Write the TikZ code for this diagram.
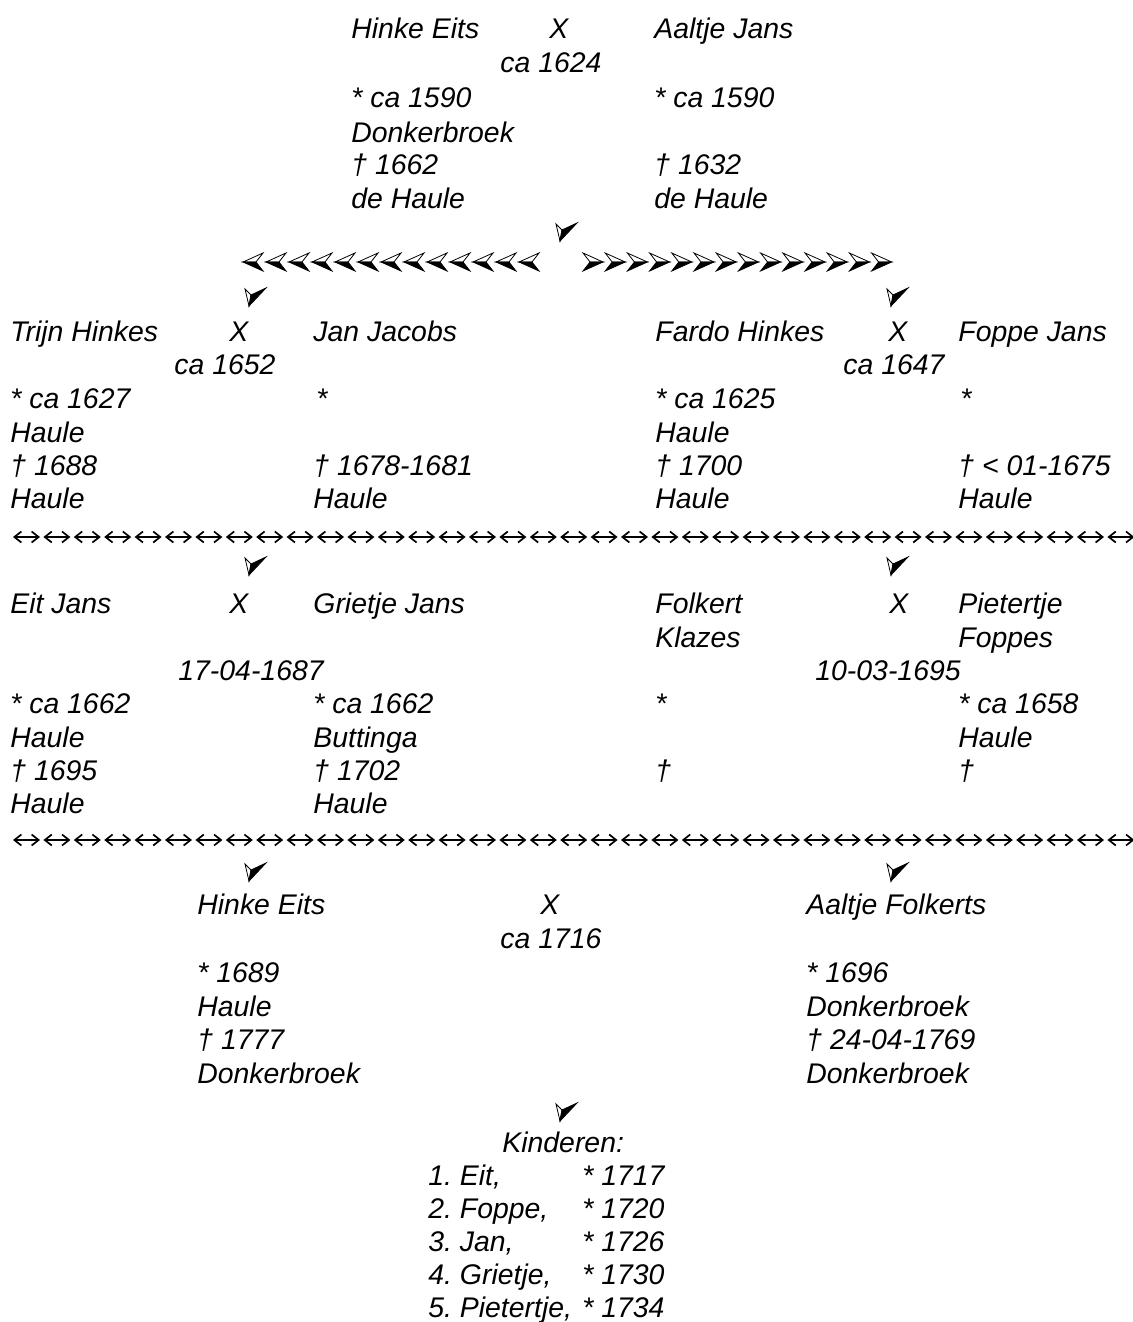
\documentclass[tikz,border=0pt]{standalone}
\usepackage{fontspec}
\setmainfont{Liberation Sans}
\usetikzlibrary{arrows.meta}
\frenchspacing

\begin{document}
\begin{tikzpicture}[x=0.5pt,y=0.5pt,yscale=-1,xscale=1,
    txt/.style={anchor=base west,inner sep=0pt,font=\fontsize{14.2}{17}\selectfont\itshape},
    arrR/.pic={\filldraw[fill=white,line width=0.4pt] (0,0) -- (-20,9) -- (-13,0) -- cycle;
               \filldraw[line width=0.4pt] (0,0) -- (-13,0) -- (-20,-9) -- cycle;},
    arrD/.pic={\filldraw[fill=white,line width=0.4pt] (0,0) -- (-4,17) -- (2,11) -- cycle;
               \filldraw[line width=0.4pt] (0,0) -- (2,11) -- (17,18) -- cycle;},
    sep/.style={line width=0.85pt,{Straight Barb[length=3.5pt,width=5.5pt]}-{Straight Barb[length=3.5pt,width=5.5pt]}}]
    \useasboundingbox (0,0) rectangle (1133,1322);

    % Text Node
    \draw (351,39) node [txt] (p1) {Hinke Eits};
    \draw (549,39) node [txt] (x1) {X};
    \draw (654,39) node [txt] (p2) {Aaltje Jans};
    \draw (500,73) node [txt] (d1) {ca 1624};
    \draw (351,108) node [txt] (p1b) {* ca 1590};
    \draw (654,108) node [txt] (p2b) {* ca 1590};
    \draw (351,142) node [txt] (p1bp) {Donkerbroek};
    \draw (351,175) node [txt] (p1d) {† 1662};
    \draw (654,175) node [txt] (p2d) {† 1632};
    \draw (351,208) node [txt] (p1dp) {de Haule};
    \draw (654,208) node [txt] (p2dp) {de Haule};

    %Arrow heads
    \pic at (560,241) {arrD};
    \foreach \i in {0,...,12} \pic[xscale=-1] at (243+23*\i,262) {arrR};
    \foreach \i in {0,...,13} \pic at (603+22.2*\i,262) {arrR};
    \pic at (249,306) {arrD};
    \pic at (891,306) {arrD};

    % Text Node
    \draw (10,341) node [txt] (p3) {Trijn Hinkes};
    \draw (229,341) node [txt] (x3) {X};
    \draw (313,341) node [txt] (p4) {Jan Jacobs};
    \draw (174,374) node [txt] (d3) {ca 1652};
    \draw (10,408) node [txt] (p3b) {* ca 1627};
    \draw (316,408) node [txt] (p4b) {*};
    \draw (10,442) node [txt] (p3bp) {Haule};
    \draw (10,475) node [txt] (p3d) {† 1688};
    \draw (313,475) node [txt] (p4d) {† 1678-1681};
    \draw (10,508) node [txt] (p3dp) {Haule};
    \draw (313,508) node [txt] (p4dp) {Haule};
    % Text Node
    \draw (655,341) node [txt] (p5) {Fardo Hinkes};
    \draw (888,341) node [txt] (x5) {X};
    \draw (958,341) node [txt] (p6) {Foppe Jans};
    \draw (843,374) node [txt] (d5) {ca 1647};
    \draw (655,408) node [txt] (p5b) {* ca 1625};
    \draw (960,408) node [txt] (p6b) {*};
    \draw (655,442) node [txt] (p5bp) {Haule};
    \draw (655,475) node [txt] (p5d) {† 1700};
    \draw (958,475) node [txt] (p6d) {† < 01-1675};
    \draw (655,508) node [txt] (p5dp) {Haule};
    \draw (958,508) node [txt] (p6dp) {Haule};

    %Separator
    \foreach \i in {0,...,36} \draw[sep] (13+30.4*\i,537) -- (40+30.4*\i,537);
    \pic at (249,575) {arrD};
    \pic at (891,575) {arrD};

    % Text Node
    \draw (10,613) node [txt] (p7) {Eit Jans};
    \draw (229,613) node [txt] (x7) {X};
    \draw (313,613) node [txt] (p8) {Grietje Jans};
    \draw (178,680) node [txt] (d7) {17-04-1687};
    \draw (10,713) node [txt] (p7b) {* ca 1662};
    \draw (313,713) node [txt] (p8b) {* ca 1662};
    \draw (10,747) node [txt] (p7bp) {Haule};
    \draw (313,747) node [txt] (p8bp) {Buttinga};
    \draw (10,780) node [txt] (p7d) {† 1695};
    \draw (313,780) node [txt] (p8d) {† 1702};
    \draw (10,813) node [txt] (p7dp) {Haule};
    \draw (313,813) node [txt] (p8dp) {Haule};
    % Text Node
    \draw (655,613) node [txt] (p9) {Folkert};
    \draw (655,647) node [txt] (p9n) {Klazes};
    \draw (889,613) node [txt] (x9) {X};
    \draw (958,613) node [txt] (p10) {Pietertje};
    \draw (958,647) node [txt] (p10n) {Foppes};
    \draw (815,680) node [txt] (d9) {10-03-1695};
    \draw (655,713) node [txt] (p9b) {*};
    \draw (958,713) node [txt] (p10b) {* ca 1658};
    \draw (958,747) node [txt] (p10bp) {Haule};
    \draw (655,780) node [txt] (p9d) {†};
    \draw (958,780) node [txt] (p10d) {†};

    %Separator
    \foreach \i in {0,...,36} \draw[sep] (13+30.4*\i,840) -- (40+30.4*\i,840);
    \pic at (249,881) {arrD};
    \pic at (891,881) {arrD};

    % Text Node
    \draw (197,914) node [txt] (p11) {Hinke Eits};
    \draw (540,914) node [txt] (x11) {X};
    \draw (806,914) node [txt] (p12) {Aaltje Folkerts};
    \draw (500,948) node [txt] (d11) {ca 1716};
    \draw (197,982) node [txt] (p11b) {* 1689};
    \draw (806,982) node [txt] (p12b) {* 1696};
    \draw (197,1016) node [txt] (p11bp) {Haule};
    \draw (806,1016) node [txt] (p12bp) {Donkerbroek};
    \draw (197,1049) node [txt] (p11d) {† 1777};
    \draw (806,1049) node [txt] (p12d) {† 24-04-1769};
    \draw (197,1083) node [txt] (p11dp) {Donkerbroek};
    \draw (806,1083) node [txt] (p12dp) {Donkerbroek};

    \pic at (560,1121) {arrD};

    % Text Node
    \draw (502,1152) node [txt] (kid) {Kinderen:};
    \draw (428,1185) node [txt] (k1) {1. Eit,};
    \draw (428,1218) node [txt] (k2) {2. Foppe,};
    \draw (428,1251) node [txt] (k3) {3. Jan,};
    \draw (428,1284) node [txt] (k4) {4. Grietje,};
    \draw (428,1317) node [txt] (k5) {5. Pietertje,};
    \draw (582,1185) node [txt] (k1b) {* 1717};
    \draw (582,1218) node [txt] (k2b) {* 1720};
    \draw (582,1251) node [txt] (k3b) {* 1726};
    \draw (582,1284) node [txt] (k4b) {* 1730};
    \draw (582,1317) node [txt] (k5b) {* 1734};

\end{tikzpicture}
\end{document}
